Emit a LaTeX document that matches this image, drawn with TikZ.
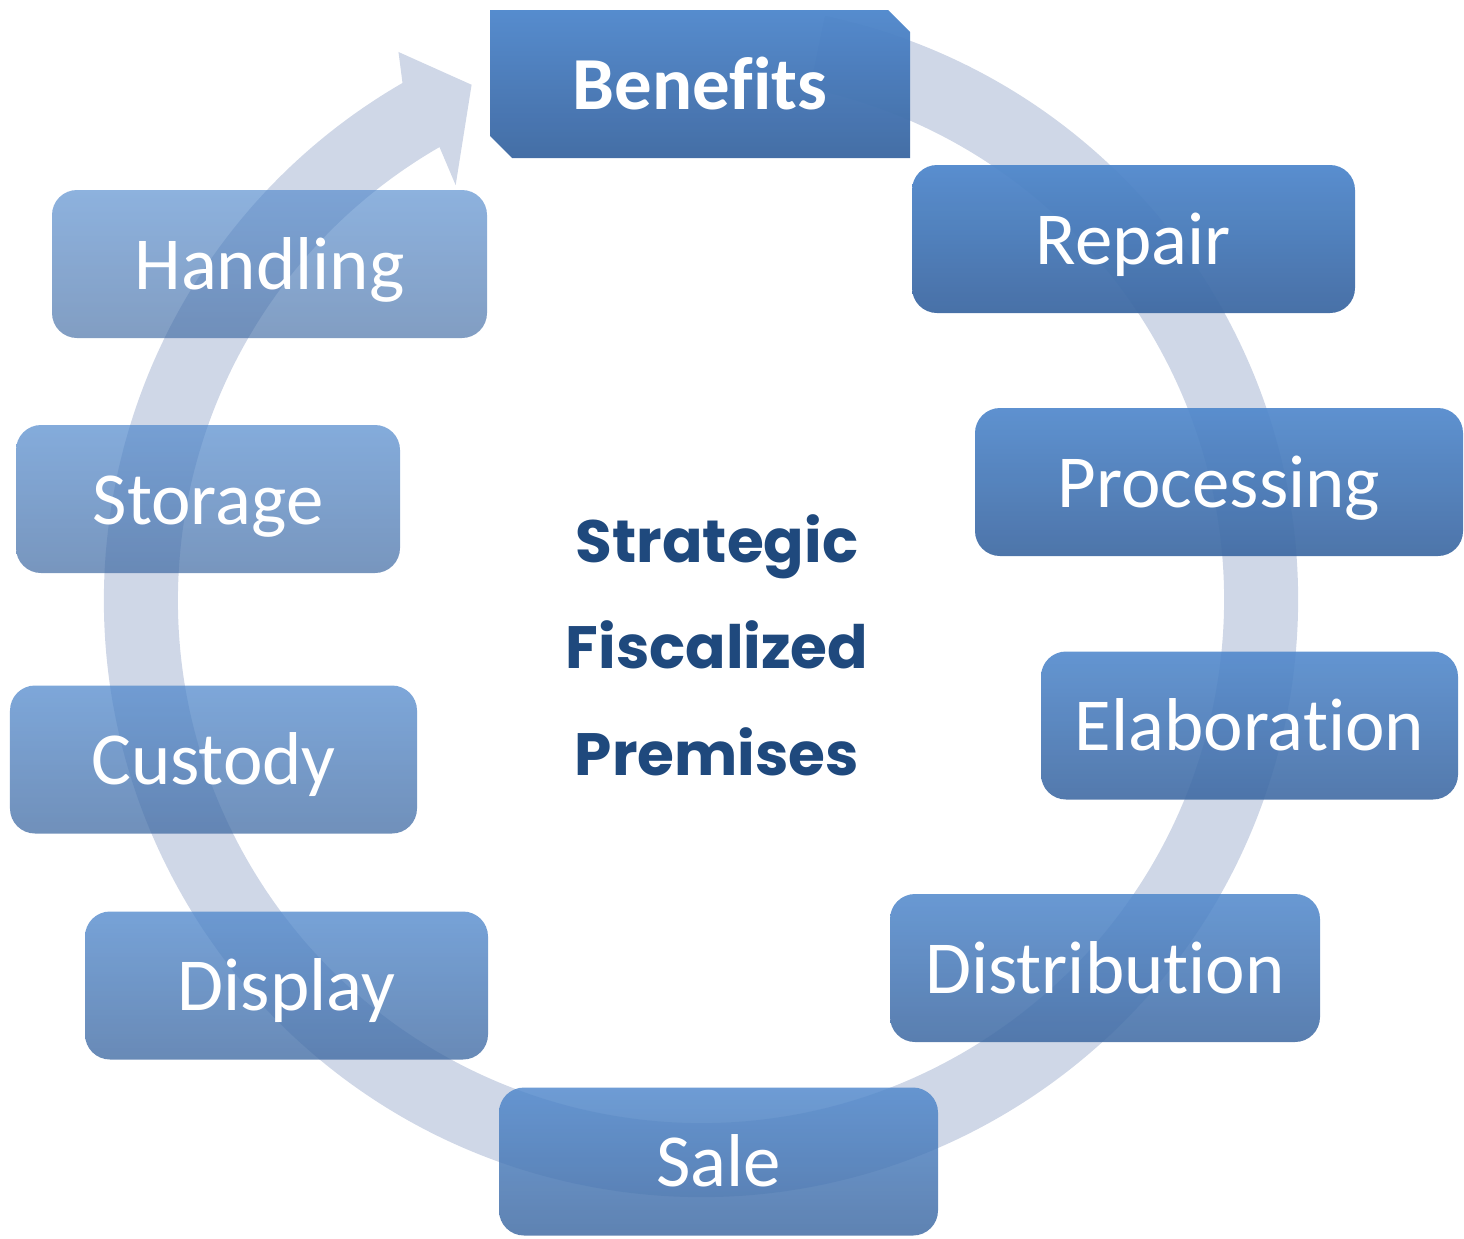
\documentclass[tikz,border=0pt]{standalone}
\usepackage{fontspec}
\setmainfont{Carlito}[Ligatures={CommonOff,ContextualOff}]
\newfontfamily\centrefont{Poppins}
\usetikzlibrary{shapes.misc}
\definecolor{ringblue}{RGB}{207,215,231}
\definecolor{boxtop}{RGB}{80,136,204}
\definecolor{boxbot}{RGB}{62,105,162}
\definecolor{navy}{RGB}{31,73,125}
\tikzset{
  stage/.style={rounded corners=0.25cm, minimum height=1.48cm, inner sep=0pt,
    top color=boxtop, bottom color=boxbot, text=white, text opacity=1,
    text height=0.5cm, text depth=0cm, font=\fontsize{21.3}{24}\selectfont},
  keystage/.style={stage, rounded corners=0pt, chamfered rectangle,
    chamfered rectangle corners={north east,south west},
    chamfered rectangle xsep=0.11cm, chamfered rectangle ysep=0.11cm,
    font=\fontsize{21.3}{24}\selectfont\bfseries},
  centre/.style={anchor=base, text=navy, font=\centrefont\fontsize{17}{20}\selectfont\bfseries}
}
\begin{document}
\begin{tikzpicture}
\useasboundingbox (0,0) rectangle (14.64,-12.38);
% ring with arrow head
\begin{scope}[shift={(7.01,-6.00)}]
  \fill[ringblue] (78:5.97) arc[start angle=78,end angle=-240,radius=5.97]
    -- (118.9:6.26) -- (114:5.64) -- (120.6:4.82) -- (120:5.23)
    arc[start angle=-240,end angle=78,radius=5.23] -- cycle;
\end{scope}
% stages
\node[keystage, minimum width=4.20cm, fill opacity=.97] (Benefits) at (7.00,-0.84) {Benefits};
\foreach \n/\x/\y/\w/\o in {
  Repair/11.335/-2.39/4.43/.95,
  Processing/12.19/-4.82/4.88/.92,
  Elaboration/12.495/-7.255/4.17/.89,
  Distribution/11.05/-9.68/4.30/.86,
  Sale/7.185/-11.615/4.39/.83,
  Display/2.865/-9.855/4.03/.78,
  Custody/2.135/-7.595/4.07/.74,
  Storage/2.08/-4.99/3.84/.70,
  Handling/2.695/-2.64/4.35/.65}
  \node[stage, minimum width=\w cm, fill opacity=\o] (\n) at (\x,\y) {\n};
% centre title
\node[centre] (strategic) at (7.17,-5.62) {Strategic};
\node[centre] (fiscalized) at (7.17,-6.68) {Fiscalized};
\node[centre] (premises) at (7.17,-7.75) {Premises};
\end{tikzpicture}
\end{document}
